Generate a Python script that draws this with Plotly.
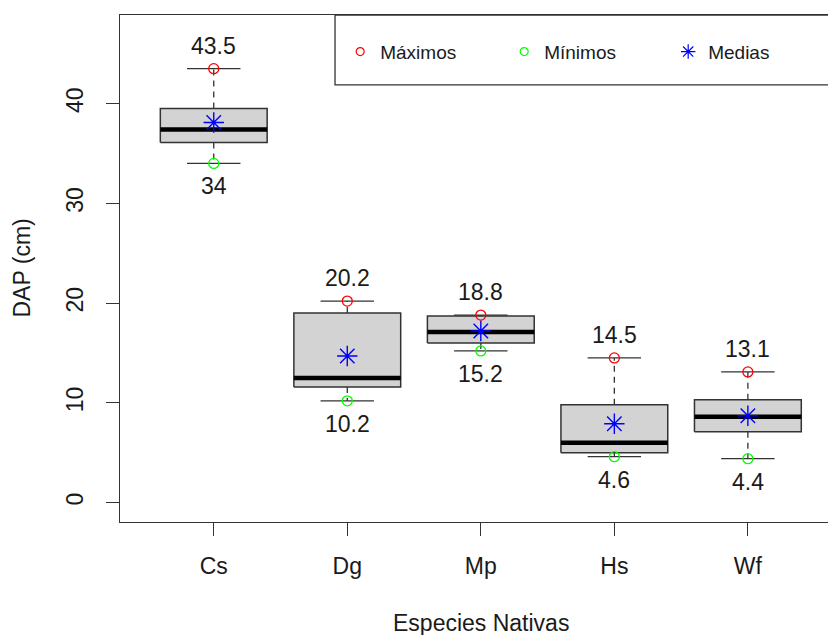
import plotly.graph_objects as go

species = ["Cs", "Dg", "Mp", "Hs", "Wf"]
q1 = [36.1, 11.6, 16.0, 5.0, 7.1]
median = [37.4, 12.5, 17.1, 6.0, 8.6]
q3 = [39.5, 19.0, 18.7, 9.8, 10.3]
maximos = [43.5, 20.2, 18.8, 14.5, 13.1]
minimos = [34.0, 10.2, 15.2, 4.6, 4.4]
medias = [38.1, 14.7, 17.2, 7.9, 8.7]
max_labels = ["43.5", "20.2", "18.8", "14.5", "13.1"]
min_labels = ["34", "10.2", "15.2", "4.6", "4.4"]
yticks = [0, 10, 20, 30, 40]

FONT = "Liberation Sans, Arial, sans-serif"
DARK = "#333333"
TXT = "#1a1a1a"
pos = list(range(1, len(species) + 1))
bw = 0.4
cw = 0.2

fig = go.Figure()

for i, x in enumerate(pos):
    # dashed whiskers
    fig.add_trace(go.Scatter(x=[x, x, None, x, x], y=[q3[i], maximos[i], None, q1[i], minimos[i]],
                             mode="lines", line=dict(color=DARK, width=1.3, dash="6px,5px"),
                             showlegend=False, hoverinfo="skip"))
    # caps
    fig.add_trace(go.Scatter(x=[x - cw, x + cw, None, x - cw, x + cw],
                             y=[maximos[i], maximos[i], None, minimos[i], minimos[i]],
                             mode="lines", line=dict(color=DARK, width=1.3),
                             showlegend=False, hoverinfo="skip"))
    # box
    fig.add_trace(go.Scatter(x=[x - bw, x + bw, x + bw, x - bw, x - bw],
                             y=[q1[i], q1[i], q3[i], q3[i], q1[i]],
                             mode="lines", fill="toself", fillcolor="#D3D3D3",
                             line=dict(color=DARK, width=1.5),
                             showlegend=False, hoverinfo="skip"))
    # median
    fig.add_trace(go.Scatter(x=[x - bw, x + bw], y=[median[i], median[i]],
                             mode="lines", line=dict(color="black", width=4.5),
                             showlegend=False, hoverinfo="skip"))

fig.add_trace(go.Scatter(x=pos, y=maximos, mode="markers",
                         marker=dict(symbol="circle-open", size=10, color="#FF0000", line=dict(width=1.3)),
                         showlegend=False))
fig.add_trace(go.Scatter(x=pos, y=minimos, mode="markers",
                         marker=dict(symbol="circle-open", size=10, color="#00FF00", line=dict(width=1.3)),
                         showlegend=False))
fig.add_trace(go.Scatter(x=pos, y=medias, mode="markers",
                         marker=dict(symbol="asterisk-open", size=17, color="#0000FF", line=dict(width=1.4, color="#0000FF")),
                         showlegend=False))

# legend entries (smaller symbols as in the legend)
fig.add_trace(go.Scatter(x=[None], y=[None], mode="markers", name="Máximos",
                         marker=dict(symbol="circle-open", size=8, color="#FF0000", line=dict(width=1.2))))
fig.add_trace(go.Scatter(x=[None], y=[None], mode="markers", name="Mínimos",
                         marker=dict(symbol="circle-open", size=8, color="#00FF00", line=dict(width=1.2))))
fig.add_trace(go.Scatter(x=[None], y=[None], mode="markers", name="Medias", legendwidth=70,
                         marker=dict(symbol="asterisk-open", size=12, color="#0000FF", line=dict(width=1.2, color="#0000FF"))))

annotations = []
for i, x in enumerate(pos):
    annotations.append(dict(x=x, y=maximos[i], xref="x", yref="y", text=max_labels[i], showarrow=False,
                            yshift=23, font=dict(size=23, color=TXT, family=FONT)))
    annotations.append(dict(x=x, y=minimos[i], xref="x", yref="y", text=min_labels[i], showarrow=False,
                            yshift=-23, font=dict(size=23, color=TXT, family=FONT)))

annotations.append(dict(x=3, y=0, xref="x", yref="paper", text="Especies Nativas", showarrow=False,
                        yshift=-101, yanchor="middle", font=dict(size=23, color=TXT, family=FONT)))
annotations.append(dict(x=0, y=0.5, xref="paper", yref="paper", text="DAP (cm)", showarrow=False,
                        textangle=-90, xshift=-99, xanchor="center", yanchor="middle",
                        font=dict(size=23, color=TXT, family=FONT)))

fig.update_layout(
    width=828, height=635,
    margin=dict(l=120, r=0, t=15, b=113, autoexpand=False),
    plot_bgcolor="white", paper_bgcolor="white",
    font=dict(family=FONT, color=TXT),
    showlegend=True,
    legend=dict(orientation="h", x=0.311, y=0.9276, xanchor="left", yanchor="middle",
                bgcolor="rgba(0,0,0,0)", borderwidth=0, entrywidth=119, entrywidthmode="pixels",
                font=dict(size=19, color=TXT, family=FONT)),
    annotations=annotations,
    shapes=[dict(type="rect", xref="paper", yref="paper", x0=0.3037, x1=1.05, y0=0.862, y1=1.0,
                 line=dict(color=DARK, width=1.3), layer="above")],
    xaxis=dict(range=[0.298, 5.6], tickvals=pos, ticktext=species, showgrid=False, zeroline=False,
               showline=True, mirror=True, linecolor=DARK, linewidth=1.3,
               ticks="outside", ticklen=13, tickcolor=DARK, tickwidth=1.3,
               tickfont=dict(size=23, color=TXT, family=FONT), ticklabelstandoff=10),
    yaxis=dict(range=[-1.945, 48.88], tickvals=yticks, showgrid=False, zeroline=False,
               showline=True, mirror=False, linecolor=DARK, linewidth=1.3,
               ticks="outside", ticklen=13, tickcolor=DARK, tickwidth=1.3, tickangle=-90,
               tickfont=dict(size=23, color=TXT, family=FONT), ticklabelstandoff=14),
)

fig.write_html("out.html")
